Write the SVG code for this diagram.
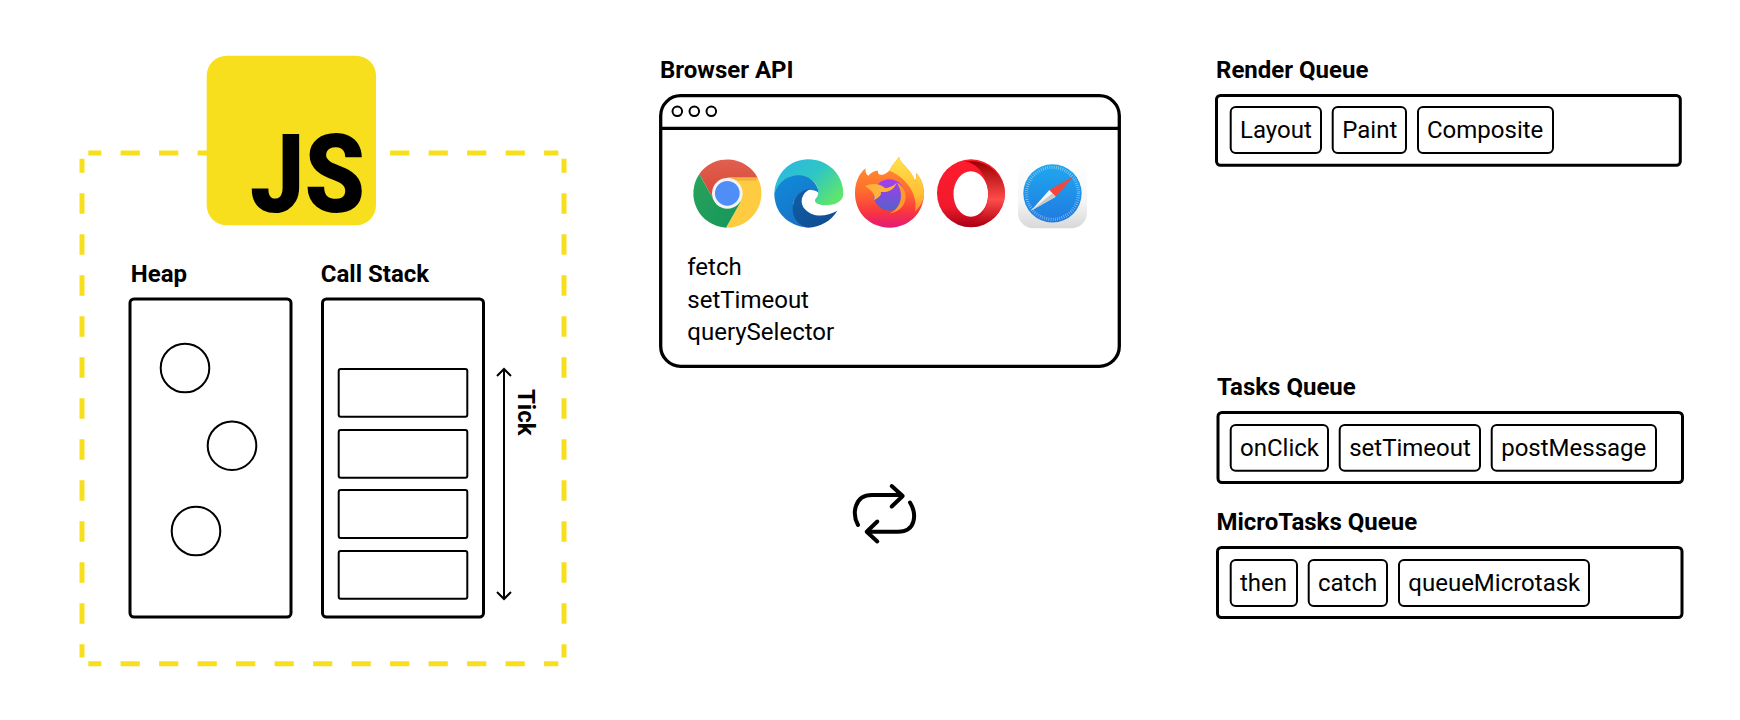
<svg xmlns="http://www.w3.org/2000/svg" width="1740" height="720" viewBox="0 0 1740 720">
<style>
text{font-family:Roboto,"Liberation Sans",sans-serif;fill:#000}
.h{font-size:24px;font-weight:700}
.t{font-size:24px;font-weight:400}
.box{fill:#fff;stroke:#000;stroke-width:3;}
.chip{fill:#fff;stroke:#000;stroke-width:2}
.thin{fill:none;stroke:#000;stroke-width:2}
.dh{fill:none;stroke:#f7df1e;stroke-width:5;stroke-dasharray:19.2 19.3;stroke-dashoffset:6.2}
.dv{fill:none;stroke:#f7df1e;stroke-width:5;stroke-dasharray:20.5 20.5;stroke-dashoffset:6.5}
.loop{fill:none;stroke:#000;stroke-width:4;stroke-linecap:round;stroke-linejoin:round}
</style>
<defs>
<linearGradient id="gRed" x1="0" y1="0" x2="0" y2="1"><stop offset="0" stop-color="#e0604f"/><stop offset="1" stop-color="#d84436"/></linearGradient>
<linearGradient id="gGreen" x1="0" y1="0" x2="1" y2="1"><stop offset="0" stop-color="#2aa35c"/><stop offset="1" stop-color="#14965a"/></linearGradient>
<linearGradient id="gEdgeTop" x1="0" y1="0" x2="1" y2="0.7"><stop offset="0" stop-color="#2bb5e8"/><stop offset="0.55" stop-color="#2fc6c4"/><stop offset="1" stop-color="#5fe56c"/></linearGradient>
<linearGradient id="gEdgeBlue" x1="0.2" y1="0" x2="0.7" y2="1"><stop offset="0" stop-color="#0f8ad8"/><stop offset="1" stop-color="#1a70c4"/></linearGradient>
<linearGradient id="gEdgeDark" x1="0" y1="0" x2="1" y2="1"><stop offset="0" stop-color="#0f5fa8"/><stop offset="1" stop-color="#124a8f"/></linearGradient>
<linearGradient id="gFoxBody" x1="0" y1="0" x2="0" y2="1"><stop offset="0" stop-color="#ff9a2e"/><stop offset="0.5" stop-color="#ff6a30"/><stop offset="0.78" stop-color="#f8363f"/><stop offset="1" stop-color="#e4187a"/></linearGradient>
<linearGradient id="gFoxFlame" x1="0" y1="0" x2="0" y2="1"><stop offset="0" stop-color="#ffe24a"/><stop offset="0.7" stop-color="#ffbe34"/><stop offset="1" stop-color="#ff8a30"/></linearGradient>
<linearGradient id="gFoxGlobe" x1="0.5" y1="0" x2="0.5" y2="1"><stop offset="0" stop-color="#a83cf0"/><stop offset="1" stop-color="#5560cc"/></linearGradient>
<linearGradient id="gOpera" x1="0" y1="0" x2="0" y2="1"><stop offset="0" stop-color="#ff1b2d"/><stop offset="0.7" stop-color="#f01a2c"/><stop offset="1" stop-color="#a70014"/></linearGradient>
<linearGradient id="gOpera2" x1="0" y1="0" x2="0" y2="1"><stop offset="0" stop-color="#9c0000"/><stop offset="0.6" stop-color="#ff4b4b"/><stop offset="1" stop-color="#b00010"/></linearGradient>
<linearGradient id="gSafariBg" x1="0" y1="0" x2="0" y2="1"><stop offset="0" stop-color="#fff"/><stop offset="0.6" stop-color="#f6f6f6"/><stop offset="1" stop-color="#d8d8d8"/></linearGradient>
<linearGradient id="gSafari" x1="0" y1="0" x2="0" y2="1"><stop offset="0" stop-color="#1fa8ef"/><stop offset="1" stop-color="#1f7ae0"/></linearGradient>
<marker id="arr" markerWidth="16" markerHeight="16" refX="9" refY="8" orient="auto-start-reverse" markerUnits="userSpaceOnUse"><path d="M2 1 L9 8 L2 15" fill="none" stroke="#000" stroke-width="2"/></marker>
</defs>

<g id="engine-frame">
<path class="dh" d="M88.3 153H558.3"/>
<path class="dh" d="M88.3 663.7H558.3"/>
<path class="dv" d="M82 158.7V657.5"/>
<path class="dv" d="M564 158.7V657.5"/>
</g>

<g id="js-logo">
<rect x="206.7" y="55.7" width="169.3" height="169.6" rx="20" fill="#f7df1e"/>
<text x="250" y="211.500" textLength="115" lengthAdjust="spacingAndGlyphs" style="font-size:109px;font-weight:900">JS</text>
</g>

<g id="heap">
<text class="h" x="130.8" y="282.3">Heap</text>
<rect class="box" x="130" y="299" width="161" height="318" rx="4"/>
<circle class="thin" cx="185" cy="368" r="24.3"/>
<circle class="thin" cx="232" cy="445.7" r="24.3"/>
<circle class="thin" cx="196" cy="531" r="24.3"/>
</g>

<g id="call-stack">
<text class="h" x="320.8" y="282.3">Call Stack</text>
<rect class="box" x="322.5" y="299" width="161" height="318" rx="4"/>
<rect class="chip" x="338.7" y="369" width="128.6" height="47.7" rx="2"/>
<rect class="chip" x="338.7" y="430" width="128.6" height="47.7" rx="2"/>
<rect class="chip" x="338.7" y="490" width="128.6" height="48" rx="2"/>
<rect class="chip" x="338.7" y="551" width="128.6" height="47.7" rx="2"/>
</g>

<g id="tick-label">
<text class="h" transform="translate(517.5 389) rotate(90)">Tick</text>
</g>

<g id="connectors">
<path class="thin" d="M504 369V599" marker-start="url(#arr)" marker-end="url(#arr)"/>
</g>

<g id="browser-api">
<text class="h" x="660" y="78">Browser API</text>
<rect class="box" style="stroke-width:3.3" x="660.7" y="95.7" width="458.6" height="270.6" rx="20"/>
<path d="M660.7 128.3H1119.3" stroke="#000" stroke-width="3.3" fill="none"/>
<circle class="thin" cx="677.3" cy="111.3" r="4.8"/>
<circle class="thin" cx="694.3" cy="111.3" r="4.8"/>
<circle class="thin" cx="711.3" cy="111.3" r="4.8"/>
<text class="t" x="687.3" y="275">fetch</text>
<text class="t" x="687.3" y="307.5">setTimeout</text>
<text class="t" x="687.3" y="339.5">querySelector</text>
</g>

<g id="chrome" transform="translate(680 150) scale(.3333)">
<path d="M58 72A103 103 0 0 1 233 83L142 83L142 130L103 153Z" fill="url(#gRed)"/>
<path d="M233 83A103 103 0 0 1 138 233L182 155L142 83Z" fill="#ffcb40"/>
<path d="M142 83L233 83L228 92L175 92Z" fill="#f0b23a"/>
<path d="M58 72L103 153L142 130L182 155L138 233A103 103 0 0 1 58 72Z" fill="url(#gGreen)"/>
<circle cx="142" cy="130" r="46" fill="#f1f3f4"/>
<circle cx="142" cy="130" r="37" fill="#4f8ef7"/>
</g>

<g id="edge" transform="translate(680 150) scale(.3333)">
<path d="M283 130C287 70 330 28 385 28C445 28 490 75 490 130C490 155 465 166 440 166C420 166 403 160 405 150C406 145 415 140 415 125C415 100 390 78 350 78C320 78 295 100 283 130Z" fill="url(#gEdgeTop)"/>
<path d="M283 130C295 95 325 76 355 76C385 76 414 98 416 128C385 108 350 125 340 160C335 190 350 220 375 232C325 225 283 190 283 130Z" fill="url(#gEdgeBlue)"/>
<path d="M375 232C345 220 333 190 340 160C345 135 365 118 392 116C362 130 358 160 375 178C400 205 440 200 472 182C455 212 420 232 385 233Z" fill="url(#gEdgeDark)"/>
</g>

<g id="firefox" transform="translate(850 150) scale(.3333)">
<path d="M15 130C15 100 25 72 47 55C45 68 50 75 55 77C62 68 72 62 84 62C82 75 95 82 118 62C125 45 140 32 147 20C150 42 182 55 195 92C200 82 200 75 198 68C215 85 222 110 222 130C222 190 175 233 120 233C60 233 15 190 15 130Z" fill="url(#gFoxBody)"/>
<path d="M118 62C125 45 140 32 147 20C150 42 182 55 195 92C200 82 200 75 198 68C215 85 222 110 222 130C222 150 212 170 195 185C205 140 175 85 118 62Z" fill="url(#gFoxFlame)"/>
<circle cx="118" cy="135" r="47" fill="url(#gFoxGlobe)"/>
<path d="M45 108C65 98 92 100 106 115C120 112 130 108 140 98C132 120 112 128 92 126C97 134 85 144 72 150C78 134 66 122 45 108Z" fill="#ffb23a"/>
<path d="M140 98C165 108 175 140 160 165C150 180 135 188 118 190C150 178 166 135 140 98Z" fill="#ff9a2a"/>
</g>

<g id="opera" transform="translate(850 150) scale(.3333)">
<path fill-rule="evenodd" fill="url(#gOpera)" d="M261 130A102 102 0 1 0 465 130A102 102 0 1 0 261 130ZM310.500 132A52 68 0 1 1 414.500 132A52 68 0 1 1 310.500 132Z"/>
<path d="M345 34C410 25 465 75 465 130C465 187 410 235 345 226C385 222 414.500 180 414.500 132C414.500 84 385 40 345 34Z" fill="url(#gOpera2)"/>
</g>

<g id="safari" transform="translate(850 150) scale(.3333)">
<rect x="504" y="28" width="207" height="207" rx="46" fill="url(#gSafariBg)"/>
<circle cx="607.500" cy="130" r="87.500" fill="url(#gSafari)"/>
<circle cx="607.500" cy="130" r="78" fill="none" stroke="#cfe6fb" stroke-width="10" stroke-dasharray="1.6 5" opacity=".8"/>
<path d="M672 78L598 120L617 140Z" fill="#f2483c"/>
<path d="M543 182L598 120L617 140Z" fill="#f4f4f4"/>
<path d="M543 182L607.500 130L617 140Z" fill="#c8c8c8"/>
</g>

<g id="loop-icon">
<path class="loop" d="M858 525C852 514 854 495 872 495H901"/>
<path class="loop" d="M891.700 486L902.700 496L891.700 506.500"/>
<path class="loop" d="M910 502.500C917 514 916 531.700 898 531.700H868"/>
<path class="loop" d="M877.300 521.500L866.700 531.700L877.300 541.500"/>
</g>

<g id="render-queue">
<text class="h" x="1216" y="77.700">Render Queue</text>
<rect class="box" x="1216.500" y="95.500" width="463.800" height="69.800" rx="4"/>
<rect class="chip" x="1230.700" y="107" width="90.300" height="46" rx="5"/>
<text class="t" x="1240" y="137.700">Layout</text>
<rect class="chip" x="1332.700" y="107" width="73.300" height="46" rx="5"/>
<text class="t" x="1342.300" y="137.700">Paint</text>
<rect class="chip" x="1418" y="107" width="135" height="46" rx="5"/>
<text class="t" x="1427" y="137.700">Composite</text>
</g>

<g id="tasks-queue">
<text class="h" x="1217" y="394.700">Tasks Queue</text>
<rect class="box" x="1218" y="412.500" width="464.500" height="70" rx="4"/>
<rect class="chip" x="1230.700" y="425" width="97.300" height="45.700" rx="5"/>
<text class="t" x="1240" y="456">onClick</text>
<rect class="chip" x="1339.700" y="425" width="140.300" height="45.700" rx="5"/>
<text class="t" x="1349.200" y="456">setTimeout</text>
<rect class="chip" x="1491.700" y="425" width="164.300" height="45.700" rx="5"/>
<text class="t" x="1501.200" y="456">postMessage</text>
</g>

<g id="microtasks-queue">
<text class="h" x="1216.500" y="530">MicroTasks Queue</text>
<rect class="box" x="1217.500" y="547.500" width="464.500" height="70" rx="4"/>
<rect class="chip" x="1230.700" y="560" width="66.300" height="46" rx="5"/>
<text class="t" x="1240" y="591">then</text>
<rect class="chip" x="1308.700" y="560" width="78.300" height="46" rx="5"/>
<text class="t" x="1318" y="591">catch</text>
<rect class="chip" x="1399" y="560" width="190" height="46" rx="5"/>
<text class="t" x="1408.300" y="591">queueMicrotask</text>
</g>
</svg>
